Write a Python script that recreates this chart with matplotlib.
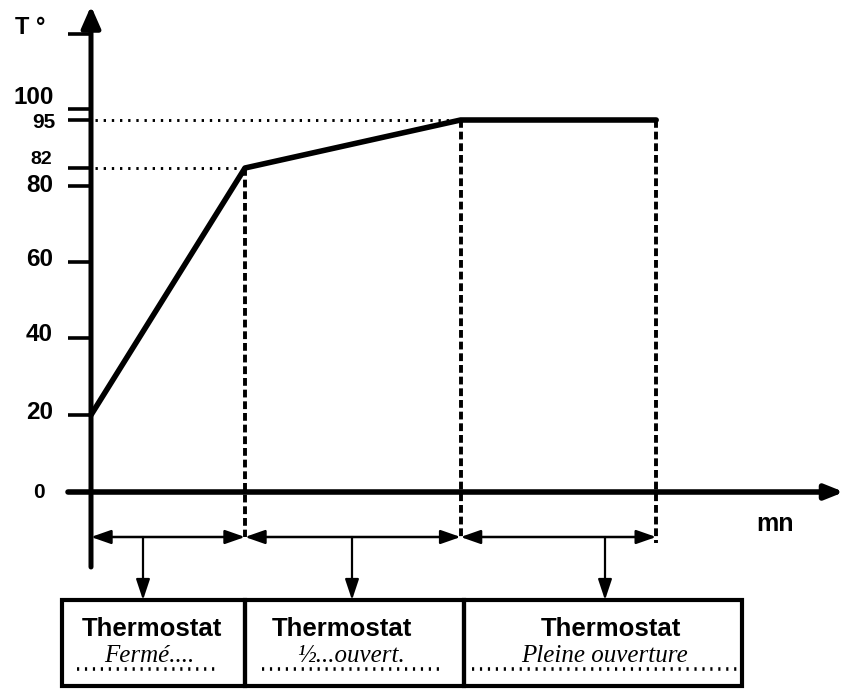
import numpy as np
import matplotlib.pyplot as plt
from matplotlib.patches import Rectangle

# heating curve of the engine (time is not graduated on the sketch)
time_mn = [0, 10, 24, 36.7]
temp_deg = [20, 82, 95, 95]

ytick_vals = [0, 20, 40, 60, 80, 82, 95, 100]
ytick_text = ['0', '20', '40', '60', '80', '82', '95', '100']

phase_title = ['Thermostat', 'Thermostat', 'Thermostat']
phase_state = ['Fermé....', '½...ouvert.', 'Pleine ouverture']

# the temperature axis of the sketch is not linear, map it piece by piece
scale_vals = [-100, 0, 20, 40, 60, 80, 82, 95, 100, 200]
scale_px = [-385, 0, 77, 154, 230, 306, 324, 372, 383, 768]


def fwd(v):
    return np.interp(v, scale_vals, scale_px)


def inv(d):
    return np.interp(d, scale_px, scale_vals)


# helpers to place the drawing parts (pixel -> data)
X0_PX, Y0_PX, PX_PER_MN = 91, 492, 15.4


def mn_at(px):
    return (px - X0_PX) / PX_PER_MN


def deg_at(px):
    return float(inv(Y0_PX - px))


plt.rcParams['font.family'] = ['Liberation Sans', 'DejaVu Sans']

fig = plt.figure(figsize=(8.45, 6.89), dpi=100)
ax = fig.add_axes([0, 0, 1, 1])
ax.set_yscale('function', functions=(fwd, inv))
ax.set_xlim(mn_at(0), mn_at(845))
ax.set_ylim(deg_at(689), deg_at(0))

for s in ax.spines.values():
    s.set_visible(False)
ax.spines['left'].set_position(('data', 0))
ax.spines['bottom'].set_position(('data', 0))

# ticks on the temperature axis (labels placed by hand below)
ax.set_xticks([])
ax.set_yticks(ytick_vals + [deg_at(34)])
ax.tick_params(axis='y', direction='out', length=16.5, width=2.6,
               color='black', labelleft=False)

# axes drawn as arrows
ax.annotate('', xy=(0, deg_at(6)), xytext=(0, deg_at(567)),
            arrowprops=dict(arrowstyle='-|>,head_length=0.5,head_width=0.22',
                            lw=3.6, color='black', mutation_scale=26,
                            shrinkA=0, shrinkB=0))
ax.annotate('', xy=(mn_at(844), 0), xytext=(mn_at(68), 0),
            arrowprops=dict(arrowstyle='-|>,head_length=0.45,head_width=0.18',
                            lw=4.0, color='black', mutation_scale=24,
                            shrinkA=0, shrinkB=0))

# tick labels: sizes and small shifts as in the sketch
lab_dx = [46, 38, 38, 38, 38, 39, 36, 37]
lab_dy = [0, 3, 4, 3, 0, 9, -3, 12]
lab_fs = [15, 17.5, 17.5, 17.5, 17.5, 14, 15, 17.5]
for v, t, dx, dy, fs in zip(ytick_vals, ytick_text, lab_dx, lab_dy, lab_fs):
    ax.annotate(t, xy=(0, v), xytext=(-dx / 1.389, dy / 1.389),
                textcoords='offset points', ha='right', va='center',
                fontsize=fs, fontweight='bold')
ax.annotate('T °', xy=(0, deg_at(34)), xytext=(-46 / 1.389, 7 / 1.389),
            textcoords='offset points', ha='right', va='center',
            fontsize=17, fontweight='bold')
ax.text(mn_at(775), deg_at(524), 'mn', ha='center', va='center',
        fontsize=18, fontweight='bold')

# curve
ax.plot(time_mn, temp_deg, color='black', lw=4.0, solid_joinstyle='round',
        solid_capstyle='round', zorder=4)

# dotted guides to the temperature axis
for t, v in zip(time_mn[1:3], temp_deg[1:3]):
    ax.plot([mn_at(95), t], [v, v], color='black', lw=2.1,
            linestyle=(0, (0.8, 2.0)))

# dashed verticals from the breakpoints
arrow_y = deg_at(537)
for i, t in enumerate(time_mn[1:]):
    bottom = arrow_y if i < 2 else deg_at(543)
    ax.plot([t, t], [temp_deg[i + 1], bottom], color='black', lw=2.8,
            linestyle=(0, (2.0, 1.0)))

# phase double arrows
bounds = time_mn[:1] + time_mn[1:]
for a, b in zip(bounds[:-1], bounds[1:]):
    ax.annotate('', xy=(b, arrow_y), xytext=(a, arrow_y),
                arrowprops=dict(arrowstyle='<|-|>,head_length=0.8,head_width=0.28',
                                lw=1.8, color='black', mutation_scale=15,
                                shrinkA=0, shrinkB=0))

# boxes under the chart
box_edges = [mn_at(62), time_mn[1], mn_at(464), mn_at(742)]
box_top, box_bot = deg_at(600), deg_at(686)
drop_x = [mn_at(143), mn_at(352), mn_at(605)]
title_x = [mn_at(152), mn_at(342), mn_at(611)]
state_x = [mn_at(149), mn_at(351), mn_at(605)]
line_span = [(77, 220), (262, 440), (472, 737)]

for i in range(3):
    ax.add_patch(Rectangle((box_edges[i], box_bot),
                           box_edges[i + 1] - box_edges[i], box_top - box_bot,
                           fill=False, lw=3.0, edgecolor='black',
                           joinstyle='miter'))
    ax.annotate('', xy=(drop_x[i], box_top), xytext=(drop_x[i], arrow_y),
                arrowprops=dict(arrowstyle='-|>,head_length=0.9,head_width=0.3',
                                lw=1.6, color='black', mutation_scale=14,
                                shrinkA=0, shrinkB=0))
    ax.text(title_x[i], deg_at(629), phase_title[i], ha='center',
            va='center', fontsize=18.5, fontweight='bold')
    ax.text(state_x[i], deg_at(656), phase_state[i], ha='center',
            va='center', fontsize=18, style='italic',
            family=['Liberation Serif', 'DejaVu Serif'])
    ax.plot([mn_at(line_span[i][0]), mn_at(line_span[i][1])],
            [deg_at(669), deg_at(669)], color='black', lw=2.6,
            linestyle=(0, (0.6, 1.6)))

fig.savefig('out.png', dpi=100)
